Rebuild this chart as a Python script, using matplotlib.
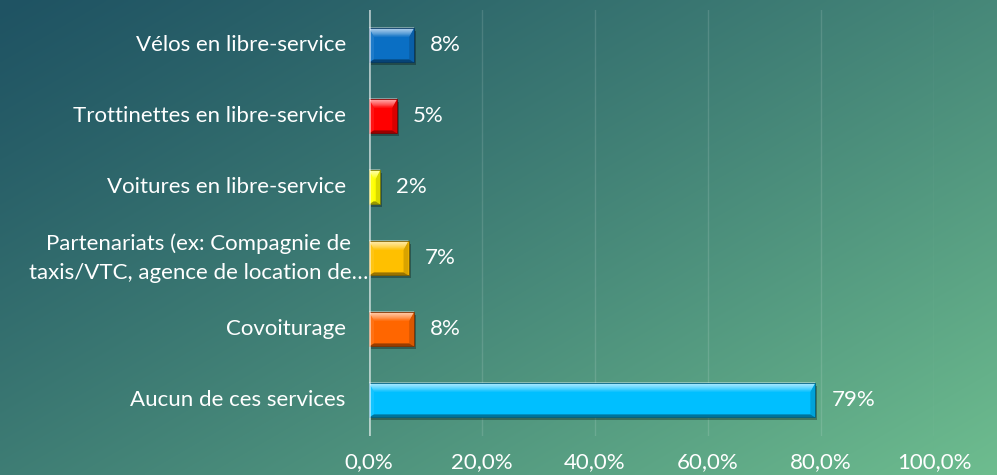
import numpy as np
import matplotlib
matplotlib.use("Agg")
import matplotlib.pyplot as plt
from matplotlib.patches import Polygon
from matplotlib.transforms import IdentityTransform, blended_transform_factory
from matplotlib.colors import to_rgb

categories = [
    "Vélos en libre-service",
    "Trottinettes en libre-service",
    "Voitures en libre-service",
    "Partenariats (ex: Compagnie de\ntaxis/VTC, agence de location de…",
    "Covoiturage",
    "Aucun de ces services",
]
values = [8, 5, 2, 7, 8, 79]
value_labels = ["8%", "5%", "2%", "7%", "8%", "79%"]
bar_colors = ["#0A6FC4", "#FF0000", "#FFFF00", "#FFC000", "#FF6600", "#00BFFF"]
xticks = [0, 20, 40, 60, 80, 100]
xtick_labels = ["0,0%", "20,0%", "40,0%", "60,0%", "80,0%", "100,0%"]

plt.rcParams['font.family'] = ['Lato', 'DejaVu Sans']
FS = 16

W, H = 997, 475
fig = plt.figure(figsize=(W / 100, H / 100), dpi=100)

# background gradient
bg = fig.add_axes([0, 0, 1, 1], zorder=-10)
xx, yy = np.meshgrid(np.linspace(0, 1, 400), np.linspace(0, 1, 200))
t = np.clip(xx * 0.55 + yy * 0.45, 0, 1) ** 1.15
c0 = np.array([31, 83, 99]) / 255
c1 = np.array([110, 189, 143]) / 255
img = c0[None, None, :] * (1 - t[..., None]) + c1[None, None, :] * t[..., None]
bg.imshow(img, aspect='auto', extent=[0, 1, 1, 0], interpolation='bilinear')
bg.set_axis_off()

ax_left, ax_right = 369 / W, 934 / W
ax_top, ax_bot = 9.5, 435.5
ax = fig.add_axes([ax_left, (H - ax_bot) / H, ax_right - ax_left, (ax_bot - ax_top) / H])
ax.set_facecolor('none')

n = len(categories)
ypos = np.arange(n)
bar_h = 0.49
bars = ax.barh(ypos, values, height=bar_h, color=bar_colors, zorder=3)
ax.set_xlim(0, 100)
ax.set_ylim(n - 0.5, -0.5)

for s in ax.spines.values():
    s.set_visible(False)
ax.axvline(0, color=(1, 1, 1, 0.6), lw=2, zorder=4)
for xt in xticks[1:]:
    ax.axvline(xt, color=(1, 1, 1, 0.13), lw=1, zorder=1)

ax.set_xticks(xticks)
ax.set_xticklabels(xtick_labels, color='white', fontsize=FS)
ax.tick_params(axis='x', length=0, pad=12)
ax.set_yticks([])

# category labels
trans = blended_transform_factory(ax.transAxes, ax.transData)
for i, lab in enumerate(categories):
    if "\n" in lab:
        ax.text(-0.001, i, lab, transform=trans, ha='right', va='center',
                color='white', fontsize=FS, multialignment='center', linespacing=1.55)
    else:
        ax.text(-0.041, i, lab, transform=trans, ha='right', va='center',
                color='white', fontsize=FS)

# value labels
for i, (v, lab) in enumerate(zip(values, value_labels)):
    ax.annotate(lab, (v, i), xytext=(16, 0), textcoords='offset pixels',
                ha='left', va='center', color='white', fontsize=FS)

# bevel effect
fig.canvas.draw()
ident = IdentityTransform()

def mix(c, w, a):
    c = np.array(to_rgb(c))
    w = np.array(to_rgb(w))
    return tuple(c * (1 - a) + w * a)

def poly(pts, **kw):
    p = Polygon(pts, closed=True, transform=ident, clip_on=False, **kw)
    ax.add_artist(p)

for rect, col in zip(bars.patches, bar_colors):
    bb = rect.get_window_extent()
    x0, x1 = bb.x0, bb.x1
    y0, y1 = bb.y0, bb.y1
    bs = min(5.0, (x1 - x0) / 2.5)
    bt, bbm = 9.0, 3.0
    # shadow (below the bar)
    poly([(x0 + 2, y0 - 3), (x1 + 2, y0 - 3), (x1 + 2, y1 - 3), (x0 + 2, y1 - 3)],
         facecolor=(0, 0, 0, 0.3), edgecolor='none', zorder=2.5)
    # left face
    poly([(x0, y0), (x0, y1), (x0 + bs, y1 - bt), (x0 + bs, y0 + bbm)],
         facecolor=mix(col, 'white', 0.08), edgecolor='none', zorder=3.1)
    # right face
    poly([(x1, y0), (x1, y1), (x1 - bs, y1 - bt), (x1 - bs, y0 + bbm)],
         facecolor=mix(col, 'black', 0.15), edgecolor='none', zorder=3.1)
    # bottom face
    poly([(x0, y0), (x1, y0), (x1 - bs, y0 + bbm), (x0 + bs, y0 + bbm)],
         facecolor=mix(col, 'black', 0.4), edgecolor='none', zorder=3.2)
    # top face gradient
    ns = 9
    for k in range(ns):
        f0, f1 = k / ns, (k + 1) / ns
        ya, yb = y1 - bt * f0, y1 - bt * f1
        xa0, xa1 = x0 + bs * f0, x1 - bs * f0
        xb0, xb1 = x0 + bs * f1, x1 - bs * f1
        a = 0.95 * (1 - (k + 0.5) / ns) ** 0.7
        poly([(xa0, ya), (xa1, ya), (xb1, yb), (xb0, yb)],
             facecolor=mix(col, 'white', a), edgecolor='none', zorder=3.2)
    # thin dark outline
    poly([(x0, y0), (x1, y0), (x1, y1), (x0, y1)],
         facecolor='none', edgecolor=mix(col, 'black', 0.5), lw=0.6, zorder=3.3)

fig.savefig("out.png", dpi=100)
